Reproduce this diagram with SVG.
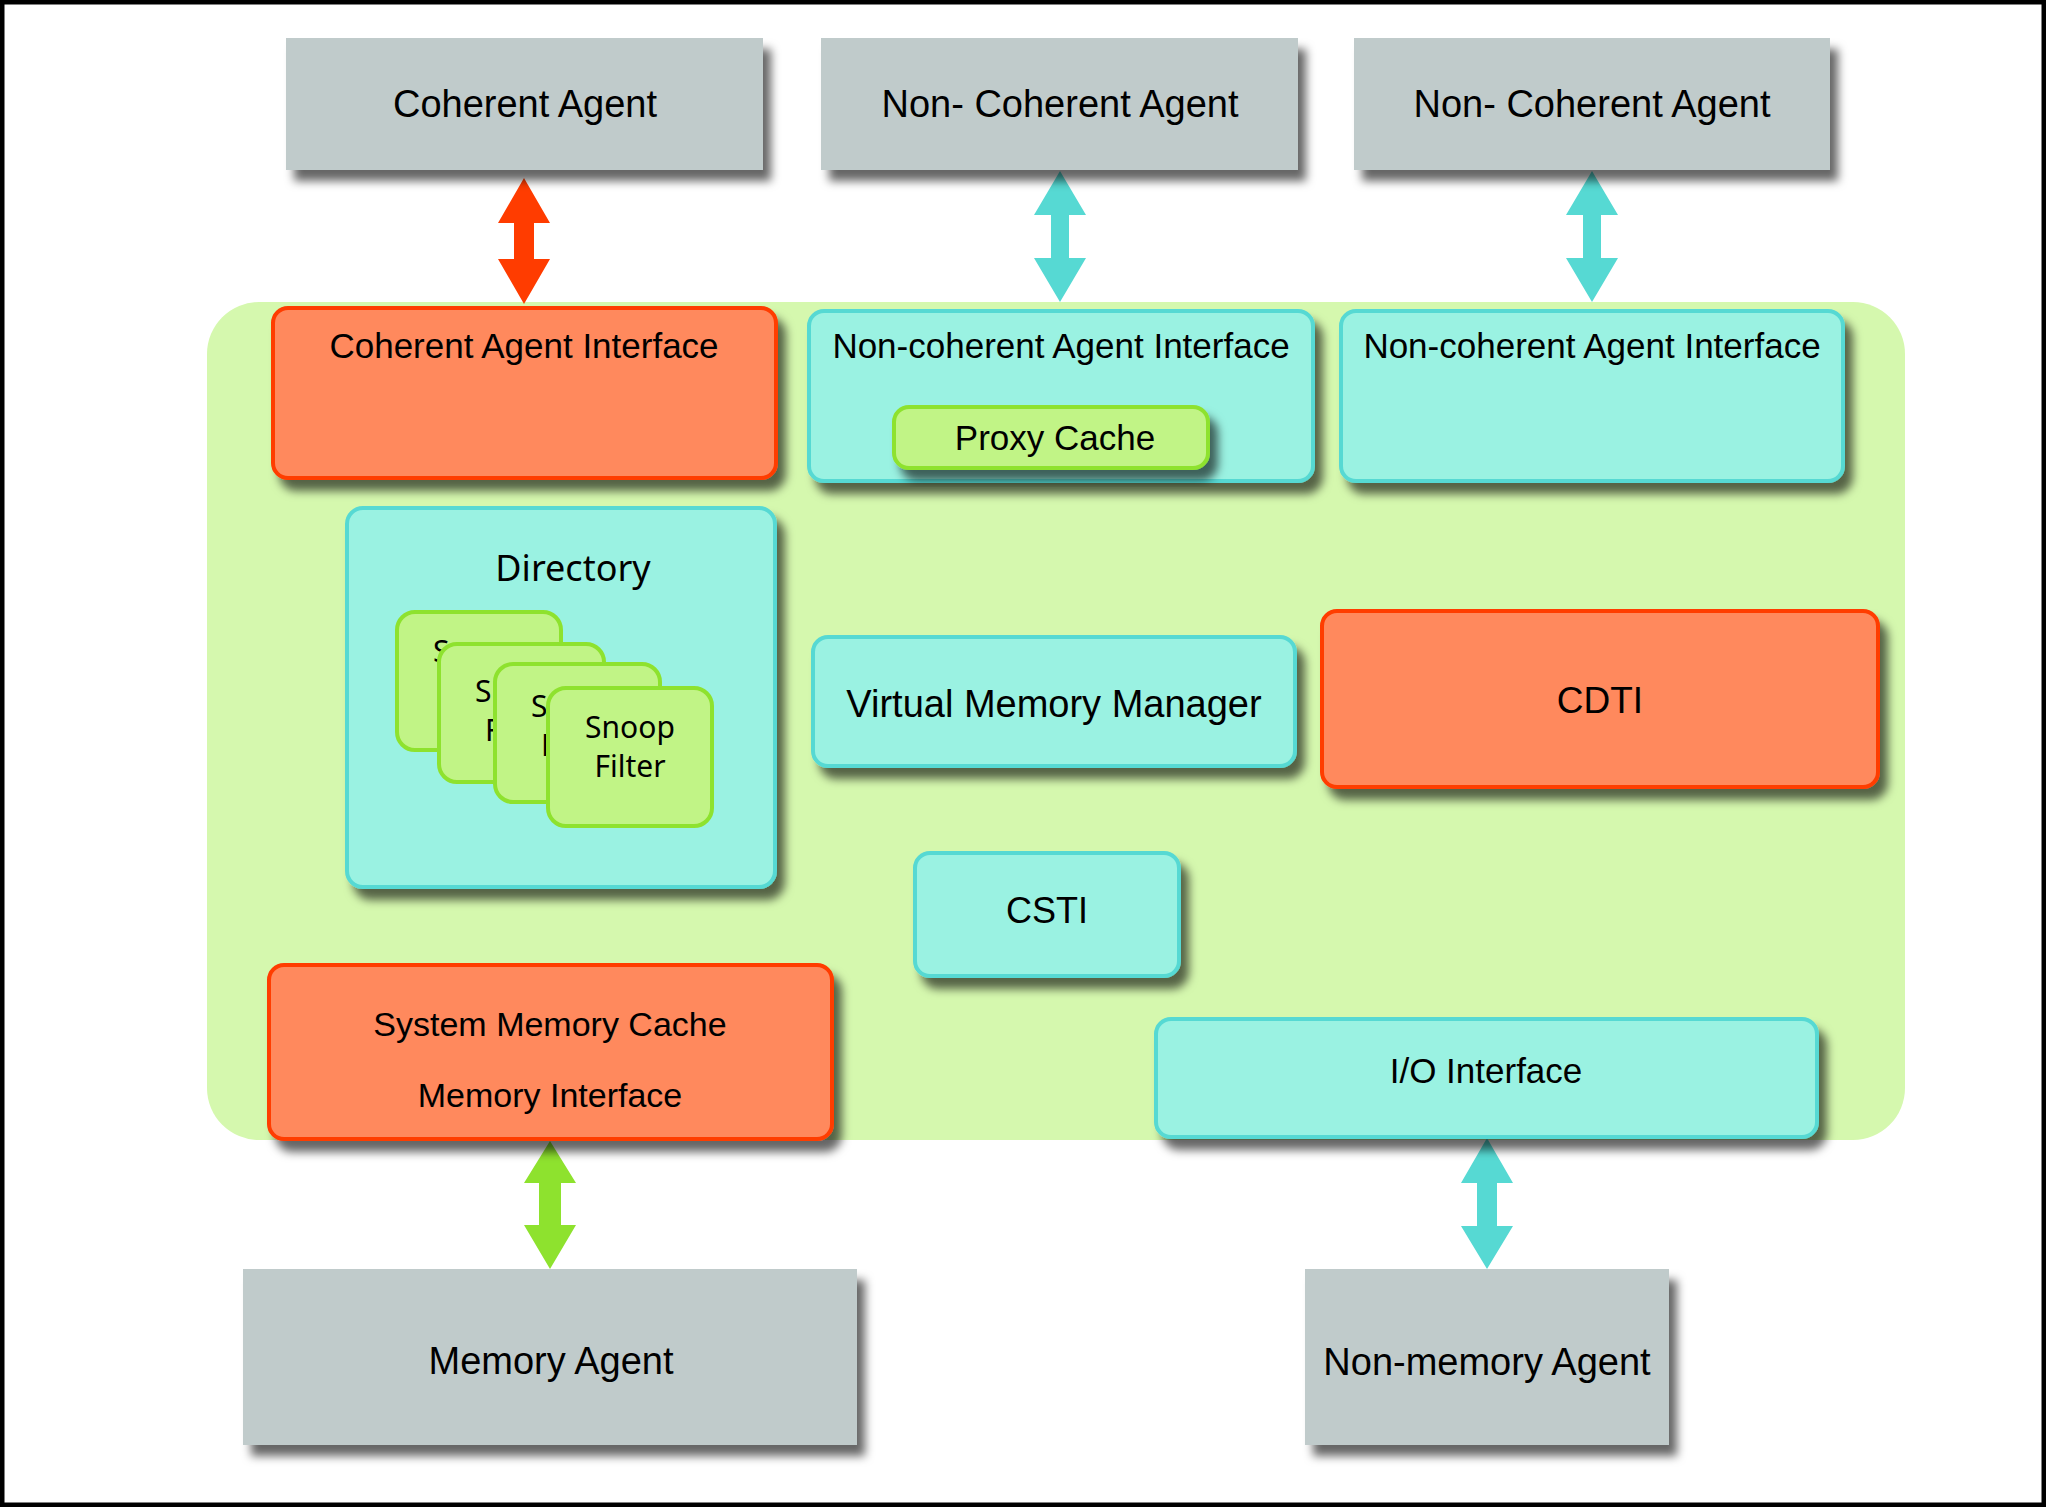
<svg xmlns="http://www.w3.org/2000/svg" width="2046" height="1507" viewBox="0 0 2046 1507">
<defs>
<filter id="sh" x="-10%" y="-10%" width="130%" height="140%">
<feDropShadow dx="8" dy="11" stdDeviation="5" flood-color="#000" flood-opacity="0.6"/>
</filter>
</defs>
<style>
.agent{fill:#c0cbcb;filter:url(#sh)}
.org{fill:#ff895d;stroke:#ff3c00;stroke-width:4;filter:url(#sh)}
.teal{fill:#9af2e2;stroke:#56d9d3;stroke-width:4;filter:url(#sh)}
.grn{fill:#c1f486;stroke:#8ee22e;stroke-width:4}
.t{font-family:"Liberation Sans",Arial,sans-serif;fill:#000;text-anchor:middle}
.n{font-family:"Noto Sans","Open Sans",sans-serif;fill:#000;text-anchor:middle}
.ns{font-family:"Noto Sans","Open Sans",sans-serif;fill:#000;font-size:30px}
</style>
<rect x="0" y="0" width="2046" height="1507" fill="#fff"/>
<rect id="bg" x="207" y="302" width="1698" height="838" rx="52" fill="#d5f8ae"/>

<g id="connectors">
<polygon fill="#ff3c00" points="524,178 550,223 534,223 534,259 550,259 524,304 498,259 514,259 514,223 498,223"/>
<polygon fill="#56d9d3" points="1060,171 1086,215 1069,215 1069,258 1086,258 1060,302 1034,258 1051,258 1051,215 1034,215"/>
<polygon fill="#56d9d3" points="1592,171 1618,215 1601,215 1601,258 1618,258 1592,302 1566,258 1583,258 1583,215 1566,215"/>
<polygon fill="#8ee22e" points="550,1141 576,1183 561,1183 561,1225 576,1225 550,1269 524,1225 539,1225 539,1183 524,1183"/>
<polygon fill="#56d9d3" points="1487,1138 1513,1183 1497,1183 1497,1226 1513,1226 1487,1269 1461,1226 1477,1226 1477,1183 1461,1183"/>
</g>

<g id="coherent-agent">
<rect class="agent" x="286" y="38" width="477" height="132"/>
<text class="t" x="525" y="117" font-size="38">Coherent Agent</text>
</g>
<g id="non-coherent-agent-1">
<rect class="agent" x="821" y="38" width="477" height="132"/>
<text class="t" x="1060" y="117" font-size="38">Non- Coherent Agent</text>
</g>
<g id="non-coherent-agent-2">
<rect class="agent" x="1354" y="38" width="476" height="132"/>
<text class="t" x="1592" y="117" font-size="38">Non- Coherent Agent</text>
</g>

<g id="coherent-agent-interface">
<rect class="org" x="273" y="308" width="503" height="170" rx="15"/>
<text class="t" x="524" y="358" font-size="35">Coherent Agent Interface</text>
</g>
<g id="non-coherent-agent-interface-1">
<rect class="teal" x="809" y="311" width="504" height="170" rx="15"/>
<text class="t" x="1061" y="358" font-size="35">Non-coherent Agent Interface</text>
</g>
<g id="proxy-cache">
<rect class="grn" x="894" y="407" width="314" height="61" rx="15" filter="url(#sh)"/>
<text class="t" x="1055" y="450" font-size="35">Proxy Cache</text>
</g>
<g id="non-coherent-agent-interface-2">
<rect class="teal" x="1341" y="311" width="502" height="170" rx="15"/>
<text class="t" x="1592" y="358" font-size="35">Non-coherent Agent Interface</text>
</g>

<g id="directory">
<rect class="teal" x="347" y="508" width="428" height="379" rx="16"/>
<text class="n" x="573" y="581" font-size="36">Directory</text>
</g>
<g id="snoop-filter-1">
<rect class="grn" x="397" y="612" width="164" height="138" rx="18"/>
<text class="ns" x="433" y="662">S</text>
</g>
<g id="snoop-filter-2">
<rect class="grn" x="439" y="644" width="165" height="138" rx="18"/>
<text class="ns" x="475" y="702">S</text>
<text class="ns" x="485" y="741">F</text>
</g>
<g id="snoop-filter-3">
<rect class="grn" x="495" y="664" width="165" height="138" rx="18"/>
<text class="ns" x="531" y="717">S</text>
<text class="ns" x="541" y="756">F</text>
</g>
<g id="snoop-filter-4">
<rect class="grn" x="548" y="688" width="164" height="138" rx="18"/>
<text class="n" x="630" y="738" font-size="30">Snoop</text>
<text class="n" x="630" y="777" font-size="30">Filter</text>
</g>

<g id="virtual-memory-manager">
<rect class="teal" x="813" y="637" width="482" height="129" rx="15"/>
<text class="t" x="1054" y="717" font-size="38">Virtual Memory Manager</text>
</g>
<g id="cdti">
<rect class="org" x="1322" y="611" width="556" height="176" rx="15"/>
<text class="t" x="1600" y="713" font-size="37">CDTI</text>
</g>
<g id="csti">
<rect class="teal" x="915" y="853" width="264" height="123" rx="15"/>
<text class="t" x="1047" y="923" font-size="36">CSTI</text>
</g>

<g id="system-memory-cache">
<rect class="org" x="269" y="965" width="563" height="174" rx="15"/>
<text class="t" x="550" y="1036" font-size="34">System Memory Cache</text>
<text class="t" x="550" y="1107" font-size="34">Memory Interface</text>
</g>
<g id="io-interface">
<rect class="teal" x="1156" y="1019" width="661" height="118" rx="15"/>
<text class="t" x="1486" y="1083" font-size="35">I/O Interface</text>
</g>

<g id="memory-agent">
<rect class="agent" x="243" y="1269" width="614" height="176"/>
<text class="t" x="551" y="1374" font-size="38">Memory Agent</text>
</g>
<g id="non-memory-agent">
<rect class="agent" x="1305" y="1269" width="364" height="176"/>
<text class="t" x="1487" y="1375" font-size="38">Non-memory Agent</text>
</g>

<rect x="2" y="2" width="2042" height="1503" fill="none" stroke="#000" stroke-width="5"/>
</svg>
